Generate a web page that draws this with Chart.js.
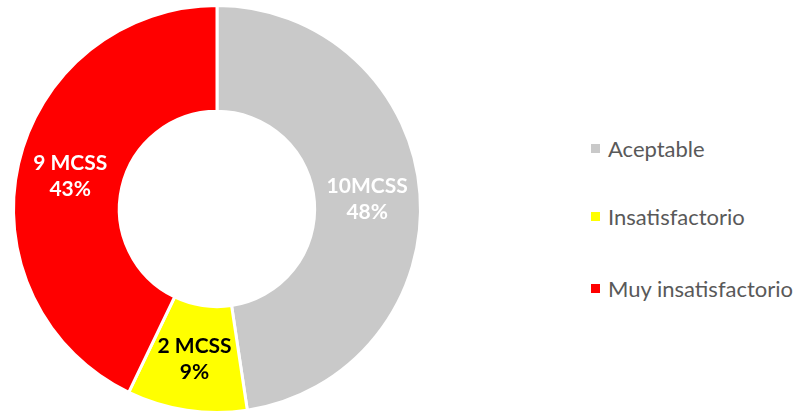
<!DOCTYPE html>
<html>
<head>
<meta charset="utf-8">
<script src="https://cdn.jsdelivr.net/npm/chart.js@4"></script>
<style>
  body { margin: 0; background: #fff; font-family: Lato, "Noto Sans", sans-serif; }
  #wrap { position: absolute; left: 0; top: 0; width: 434px; height: 414px; }
  #legend { position: absolute; left: 591px; top: 0; color: #595959; font-size: 22px; }
  .item { position: absolute; left: 0; white-space: nowrap; display: flex; align-items: center; }
  .box { width: 9px; height: 9px; margin-right: 8px; }
</style>
</head>
<body>
<div id="wrap"><canvas id="myChart"></canvas></div>
<div id="legend"></div>
<script>
// datos
const categorias = ['Aceptable', 'Insatisfactorio', 'Muy insatisfactorio'];
const valores = [10, 2, 9];
const etiquetas = [['10MCSS', '48%'], ['2 MCSS', '9%'], ['9 MCSS', '43%']];
const colores = ['#C9C9C9', '#FFFF00', '#FF0000'];
const coloresTexto = ['#ffffff', '#000000', '#ffffff'];

//etiquetas dentro del anillo
const etiquetasPlugin = {
    id: 'etiquetas',
    afterDatasetsDraw(chart) {
        const ctx = chart.ctx;
        const meta = chart.getDatasetMeta(0);
        ctx.save();
        ctx.font = 'bold 21px Lato, "Noto Sans", sans-serif';
        ctx.textAlign = 'center';
        ctx.textBaseline = 'middle';
        meta.data.forEach((arc, i) => {
            const p = arc.tooltipPosition();
            ctx.fillStyle = coloresTexto[i];
            ctx.fillText(etiquetas[i][0], p.x, p.y - 12);
            ctx.fillText(etiquetas[i][1], p.x, p.y + 14);
        });
        ctx.restore();
    }
};

const ctx = document.getElementById('myChart');
new Chart(ctx, {
    type: 'doughnut',
    data: {
        labels: categorias,
        datasets: [{
            data: valores,
            backgroundColor: colores,
            borderColor: '#ffffff',
            borderWidth: 3
        }]
    },
    options: {
        responsive: true,
        maintainAspectRatio: false,
        animation: false,
        cutout: '48%',
        layout: { padding: { top: 4, bottom: 0 } },
        plugins: {
            legend: { display: false },
            tooltip: { enabled: false }
        }
    },
    plugins: [etiquetasPlugin]
});

//leyenda
const legend = document.getElementById('legend');
const tops = [135, 203, 275];
categorias.forEach((c, i) => {
    const d = document.createElement('div');
    d.className = 'item';
    d.style.top = tops[i] + 'px';
    d.innerHTML = '<span class="box" style="background:' + colores[i] + '"></span>' + c;
    legend.appendChild(d);
});
</script>
</body>
</html>
